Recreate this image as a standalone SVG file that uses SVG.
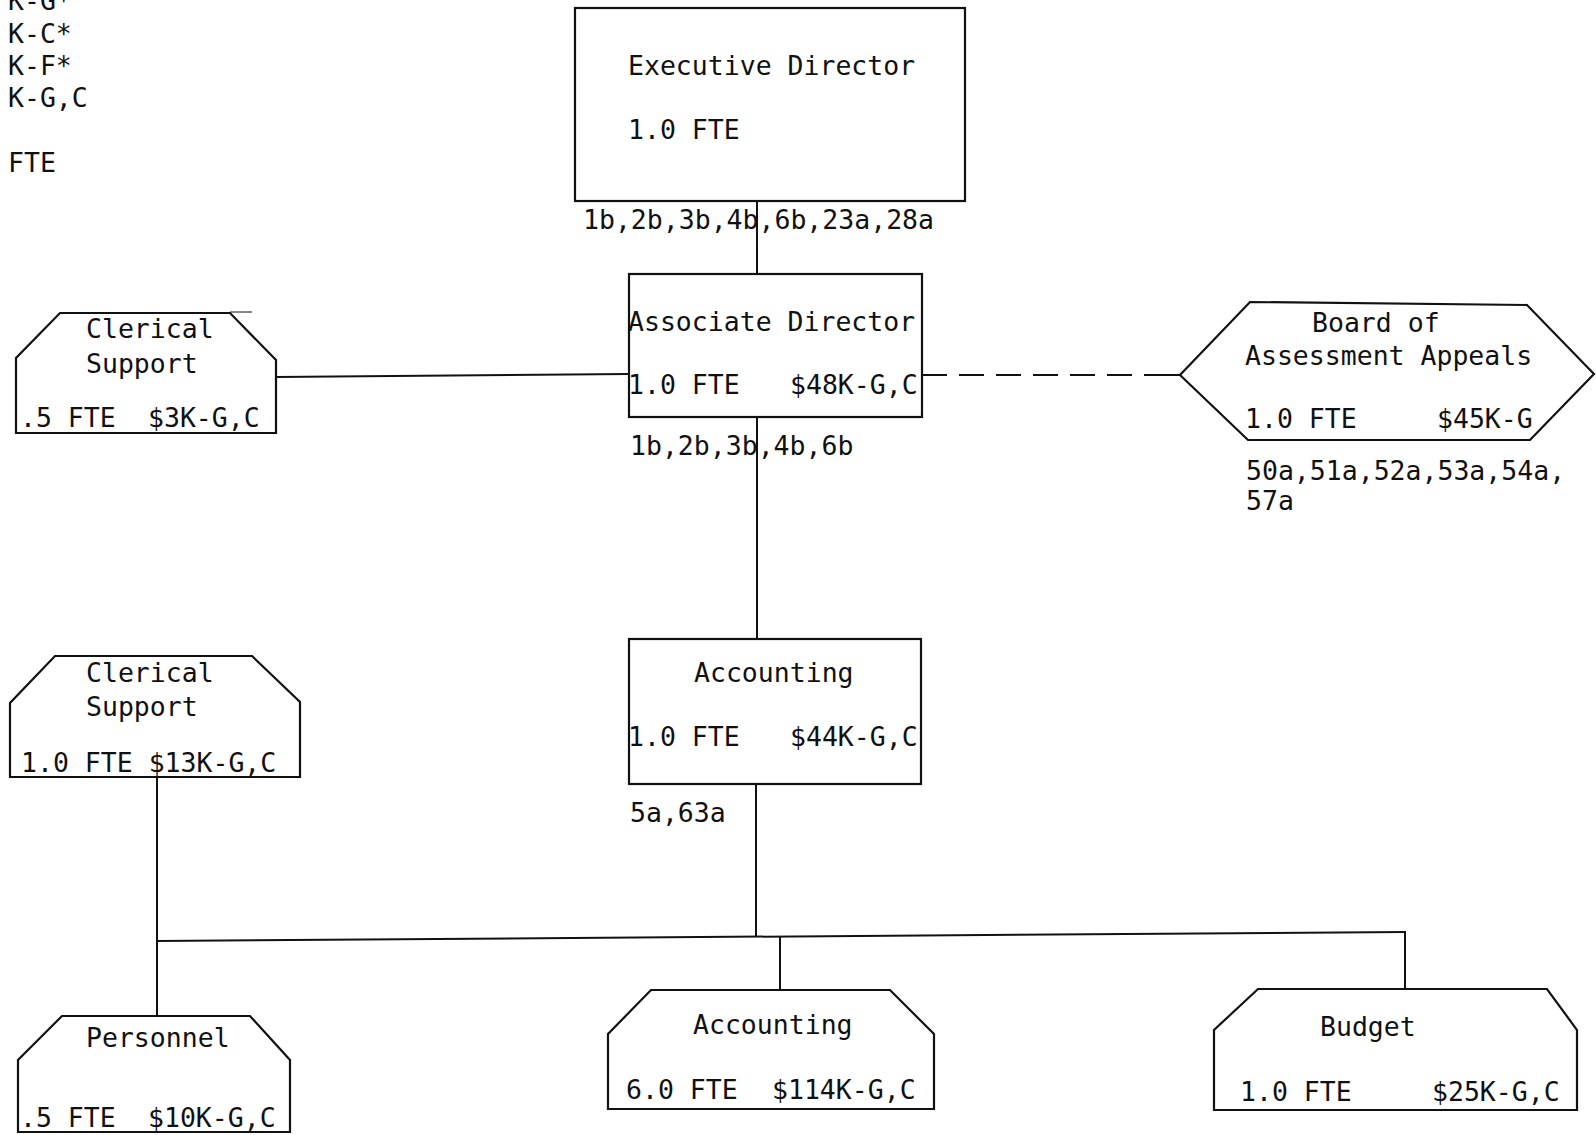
<svg xmlns="http://www.w3.org/2000/svg" width="1596" height="1135" viewBox="0 0 1596 1135">
<style>
text{font-family:"DejaVu Sans Mono","Liberation Mono",monospace;font-size:26.5px;fill:#111}
.box{fill:#fff;stroke:#111;stroke-width:2.2}
.ln{stroke:#111;stroke-width:2;fill:none}
.dash{stroke:#111;stroke-width:1.8;fill:none;stroke-dasharray:25 12}
.thin{stroke:#111;stroke-width:1;fill:none}
</style>
<rect width="1596" height="1135" fill="#fff"/>
<g id="legend">
<text x="8" y="10">K-G*</text>
<text x="8" y="43">K-C*</text>
<text x="8" y="75">K-F*</text>
<text x="8" y="107">K-G,C</text>
<text x="8" y="172">FTE</text>
</g>
<g id="connectors">
<line class="ln" x1="757" y1="201" x2="757" y2="274"/>
<line class="ln" x1="757" y1="417" x2="757" y2="639"/>
<line class="ln" x1="756" y1="784" x2="756" y2="937"/>
<line class="ln" x1="276" y1="377" x2="629" y2="374"/>
<line class="dash" x1="922" y1="375" x2="1180" y2="375"/>
<line class="ln" x1="1168" y1="375" x2="1180" y2="375"/>
<line class="ln" x1="156" y1="941" x2="1406" y2="932"/>
<line class="ln" x1="157" y1="777" x2="157" y2="1016"/>
<line class="ln" x1="780" y1="936" x2="780" y2="991"/>
<line class="ln" x1="1405" y1="932" x2="1405" y2="989"/>
</g>
<g id="executive-director">
<rect class="box" x="575" y="8" width="390" height="193"/>
<text x="628" y="75">Executive Director</text>
<text x="628" y="139">1.0 FTE</text>
<text x="583" y="229">1b,2b,3b,4b,6b,23a,28a</text>
</g>
<g id="associate-director">
<rect class="box" x="629" y="274" width="293" height="143"/>
<text x="628" y="331">Associate Director</text>
<text x="628" y="394">1.0 FTE</text>
<text x="790" y="394">$48K-G,C</text>
<text x="630" y="455">1b,2b,3b,4b,6b</text>
</g>
<g id="clerical-support-1">
<polygon class="box" points="60,313 230,313 276,360 276,433 16,433 16,358"/>
<line class="thin" x1="230" y1="312" x2="252" y2="312"/>
<text x="86" y="338">Clerical</text>
<text x="86" y="373">Support</text>
<text x="20" y="427">.5 FTE</text>
<text x="148" y="427">$3K-G,C</text>
</g>
<g id="board-of-assessment-appeals">
<polygon class="box" points="1250,302 1527,305 1594,374 1530,440 1248,440 1180,375"/>
<text x="1312" y="332">Board of</text>
<text x="1245" y="365">Assessment Appeals</text>
<text x="1245" y="428">1.0 FTE</text>
<text x="1437" y="428">$45K-G</text>
<text x="1246" y="480">50a,51a,52a,53a,54a,</text>
<text x="1246" y="510">57a</text>
</g>
<g id="accounting-main">
<rect class="box" x="629" y="639" width="292" height="145"/>
<text x="694" y="682">Accounting</text>
<text x="628" y="746">1.0 FTE</text>
<text x="790" y="746">$44K-G,C</text>
<text x="630" y="822">5a,63a</text>
</g>
<g id="clerical-support-2">
<polygon class="box" points="55,656 252,656 300,702 300,777 10,777 10,703"/>
<text x="86" y="682">Clerical</text>
<text x="86" y="716">Support</text>
<text x="21" y="772">1.0 FTE $13K-G,C</text>
</g>
<g id="personnel">
<polygon class="box" points="62,1016 250,1016 290,1060 290,1132 18,1132 18,1060"/>
<text x="86" y="1047">Personnel</text>
<text x="20" y="1127">.5 FTE</text>
<text x="148" y="1127">$10K-G,C</text>
</g>
<g id="accounting-unit">
<polygon class="box" points="651,990 890,990 934,1034 934,1109 608,1109 608,1034"/>
<text x="693" y="1034">Accounting</text>
<text x="626" y="1099">6.0 FTE</text>
<text x="772" y="1099">$114K-G,C</text>
</g>
<g id="budget">
<polygon class="box" points="1258,989 1547,989 1577,1030 1577,1110 1214,1110 1214,1030"/>
<text x="1320" y="1036">Budget</text>
<text x="1240" y="1101">1.0 FTE</text>
<text x="1432" y="1101">$25K-G,C</text>
</g>
</svg>
